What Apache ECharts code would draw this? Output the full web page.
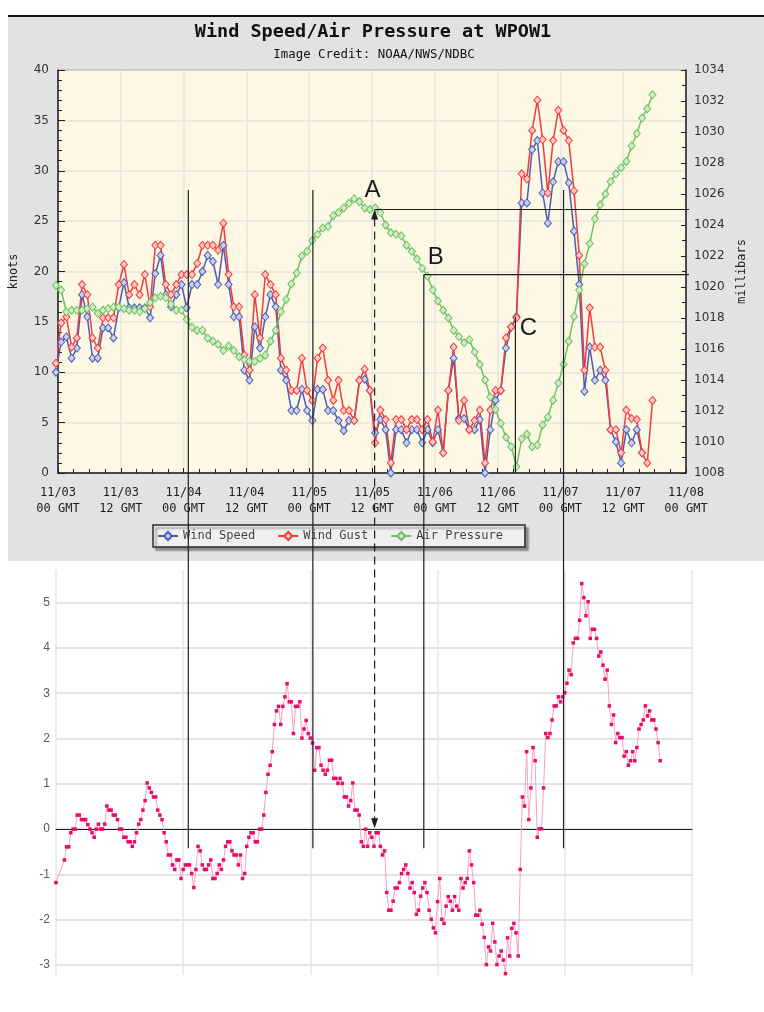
<!DOCTYPE html>
<html>
<head>
<meta charset="utf-8">
<title>Wind Speed/Air Pressure at WPOW1</title>
<script src="https://cdn.jsdelivr.net/npm/echarts@6/dist/echarts.min.js"></script>
<style>
  html, body { margin: 0; padding: 0; background: #fff; }
  #main { width: 764px; height: 1012px; }
</style>
</head>
<body>
<div id="main"></div>
<script>
// x tick labels of the NOAA chart, one every 12 hours from 11/03 00 GMT
var timeLabels = [
  '11/03\n00 GMT', '11/03\n12 GMT', '11/04\n00 GMT', '11/04\n12 GMT',
  '11/05\n00 GMT', '11/05\n12 GMT', '11/06\n00 GMT', '11/06\n12 GMT',
  '11/07\n00 GMT', '11/07\n12 GMT', '11/08\n00 GMT'
];

// hourly observations (knots)
var windSpeed = [
  10, 13, 13.5, 11.4, 12.4, 17.7, 15.5, 11.4, 11.4, 14.4,
  14.4, 13.4, 16.4, 18.9, 16.4, 16.4, 16.4, 16.4, 15.4, 19.8,
  21.6, 17.7, 16.5, 17.7, 18.7, 16.4, 18.7, 18.7, 20, 21.6,
  21, 18.7, 22.6, 18.7, 15.5, 15.5, 10.2, 9.2, 14.5, 12.4,
  15.5, 17.7, 16.5, 10.2, 9.2, 6.2, 6.2, 8.3, 6.2, 5.2,
  8.3, 8.3, 6.2, 6.2, 5.2, 4.2, 5.2, 5.2, 9.2, 9.3,
  8.2, 4.0, 5.3, 4.3, 0, 4.3, 4.3, 3.0, 4.3, 4.3,
  3.0, 4.3, 3.0, 4.3, 2.0, 8.2, 11.4, 5.4, 5.4, 4.3,
  4.3, 5.3, 0, 4.3, 7.2, 8.2, 12.4, 14.5, 15.5, 26.8,
  26.8, 32.1, 33, 27.8, 24.8, 28.9, 30.9, 30.9, 28.8, 24,
  18.7, 8.1, 12.5, 9.2, 10.2, 9.2, 4.3, 3.1, 1.0, 4.3,
  3.0, 4.3, 2.0
];
var windGust = [
  10.9, 14.9, 15.5, 12.5, 13.4, 18.7, 17.7, 13.4, 12.4, 15.4,
  15.4, 15.4, 18.7, 20.7, 17.7, 18.7, 17.7, 19.7, 16.5, 22.6,
  22.6, 18.7, 17.7, 18.7, 19.7, 19.7, 19.7, 20.8, 22.6, 22.6,
  22.6, 22.1, 24.8, 19.7, 16.5, 16.5, 11.7, 10.2, 17.7, 13.4,
  19.7, 18.7, 17.7, 11.4, 10.2, 8.2, 8.2, 11.4, 8.2, 7.2,
  11.4, 12.4, 9.2, 7.2, 9.2, 6.2, 6.2, 5.2, 9.2, 10.3,
  8.2, 3.0, 6.25, 5.3, 1.0, 5.3, 5.3, 4.3, 5.3, 5.3,
  4.3, 5.3, 3.1, 6.25, 2.0, 8.2, 12.5, 5.2, 7.2, 4.3,
  5.2, 6.25, 1.0, 6.25, 8.2, 8.2, 13.4, 14.5, 15.4, 29.7,
  29.2, 34.0, 37.0, 33.1, 27.8, 33.0, 36.0, 34.0, 33.0, 28.0,
  21.6, 10.2, 16.4, 12.5, 12.5, 10.2, 4.3, 4.3, 2.0, 6.25,
  5.4, 5.3, 2.0, 1.0, 7.2
];
// hourly observations (millibars)
var airPressure = [
  1020.1, 1019.8, 1018.4, 1018.5, 1018.5, 1018.5, 1018.6, 1018.7, 1018.3, 1018.5,
  1018.6, 1018.7, 1018.7, 1018.6, 1018.5, 1018.5, 1018.4, 1018.6, 1019.0, 1019.3,
  1019.4, 1019.3, 1018.9, 1018.5, 1018.5, 1017.9, 1017.4, 1017.2, 1017.2, 1016.7,
  1016.5, 1016.3, 1015.9, 1016.2, 1015.9, 1015.5, 1015.3, 1015.2, 1015.2, 1015.4,
  1015.6, 1016.5, 1017.2, 1018.4, 1019.2, 1020.2, 1020.9, 1022.0, 1022.3, 1023.0,
  1023.4, 1023.8, 1023.9, 1024.6, 1024.8, 1025.1, 1025.4, 1025.7, 1025.5, 1025.1,
  1025.0, 1025.1, 1024.8, 1024.0, 1023.5, 1023.4, 1023.3, 1022.7, 1022.3, 1021.8,
  1021.2, 1020.7, 1019.8, 1019.1, 1018.5, 1018.0, 1017.2, 1016.8, 1016.4, 1016.6,
  1015.8, 1015.0, 1014.0, 1012.9, 1012.1, 1011.2, 1010.3, 1009.7, 1008.4, 1010.2,
  1010.5, 1009.7, 1009.8, 1011.1, 1011.6, 1012.7, 1013.8, 1015.0, 1016.5, 1018.1,
  1019.8, 1021.5, 1022.8, 1024.4, 1025.3, 1026.0, 1026.8, 1027.3, 1027.7, 1028.1,
  1029.1, 1029.9, 1030.9, 1031.5, 1032.4
];
// lower chart, one value every 0.4 h
var tendency = [
  -1.18, null, null, null, -0.68, -0.39, -0.39, -0.08, 0, 0,
  0.31, 0.31, 0.21, 0.21, 0.21, 0.1, 0, -0.08, -0.18, 0,
  0.11, 0, 0, 0.11, 0.51, 0.42, 0.42, 0.31, 0.31, 0.21,
  0, 0, -0.18, -0.18, -0.28, -0.28, -0.38, -0.28, -0.08, 0.11,
  0.21, 0.42, 0.63, 1.02, 0.91, 0.81, 0.71, 0.71, 0.42, 0.31,
  0.21, -0.08, -0.28, -0.57, -0.57, -0.79, -0.89, -0.68, -0.68, -1.09,
  -0.89, -0.79, -0.79, -0.79, -0.98, -1.29, -0.89, -0.38, -0.48, -0.79,
  -0.89, -0.89, -0.79, -0.68, -1.09, -1.09, -0.98, -0.79, -0.89, -0.68,
  -0.38, -0.28, -0.28, -0.48, -0.57, -0.57, -0.79, -0.57, -1.09, -0.98,
  -0.38, -0.18, -0.08, -0.08, -0.28, -0.28, 0, 0, 0.31, 0.81,
  1.21, 1.41, 1.71, 2.31, 2.61, 2.71, 2.31, 2.71, 2.92, 3.21,
  2.81, 2.81, 2.11, 2.71, 2.71, 2.81, 2.01, 2.21, 2.40, 2.11,
  2.01, 1.90, 1.30, 1.80, 1.80, 1.41, 1.30, 1.21, 1.30, 1.52,
  1.52, 1.12, 1.12, 1.01, 1.12, 1.01, 0.71, 0.71, 0.51, 0.63,
  1.02, 0.42, 0.42, 0.31, -0.28, -0.38, 0, -0.38, -0.08, -0.18,
  -0.38, -0.08, -0.08, -0.38, -0.57, -0.48, -1.40, -1.79, -1.79, -1.59,
  -1.30, -1.30, -1.18, -0.98, -0.89, -0.79, -0.98, -1.30, -1.18, -1.40,
  -1.88, -1.79, -1.48, -1.30, -1.18, -1.40, -1.79, -1.99, -2.18, -2.29,
  -1.60, -1.09, -1.99, -2.08, -1.70, -1.49, -1.59, -1.79, -1.49, -1.70,
  -1.79, -1.09, -1.30, -1.18, -1.09, -0.48, -0.79, -1.18, -1.90, -1.90,
  -1.79, -2.10, -2.39, -2.99, -2.60, -2.69, -2.08, -2.49, -2.99, -2.80,
  -2.69, -2.89, -3.19, -2.40, -2.80, -2.19, -2.08, -2.29, -2.80, -0.89,
  0.71, 0.51, 1.71, 0.21, 0.91, 1.80, 1.51, -0.18, 0.01, 0.01,
  0.91, 2.11, 2.02, 2.11, 2.41, 2.72, 2.72, 2.92, 2.81, 2.92,
  3.01, 3.22, 3.51, 3.41, 4.11, 4.21, 4.21, 4.61, 5.42, 5.11,
  4.71, 5.02, 4.21, 4.41, 4.41, 4.21, 3.82, 3.91, 3.62, 3.31,
  3.51, 2.72, 2.31, 2.52, 1.91, 2.11, 2.02, 2.02, 1.61, 1.71,
  1.41, 1.51, 1.71, 1.51, 1.80, 2.21, 2.31, 2.41, 2.72, 2.50,
  2.61, 2.41, 2.41, 2.21, 1.91, 1.51
];
var lowerTicks = [-3, -2, -1, 0, 1, 2, 3, 4, 5];

// annotation anchors (hours from 11/03 00 GMT)
var guideHours = [24.9, 48.7, 96.6];
var guideTopKnots = 28.1;
var guideBottom = -0.42;
var pointA = [60.5, 1025];     // hour, mb
var pointB = [69.9, 1020.8];   // hour, mb
var pointC = [87.4, 15.5];     // hour, knots

var obsOffset = -0.4;  // obs are logged a bit before the hour
var tendStep = 0.4;

function hourly(values) {
  return values.map(function (v, i) { return [i + obsOffset, v]; });
}
function stepped(values) {
  return values.map(function (v, k) { return [k * tendStep, v]; });
}

var mono = 'DejaVu Sans Mono';
var ink = '#1e1e1e';
var myChart = echarts.init(document.getElementById('main'));

var option = {
  animation: false,
  backgroundColor: '#ffffff',
  legend: {
    data: ['Wind Speed', 'Wind Gust', 'Air Pressure'],
    left: 153, top: 525,
    itemWidth: 20, itemHeight: 10, itemGap: 22,
    padding: [5, 22, 5, 4],
    backgroundColor: '#efefef',
    borderColor: '#2a2a2a', borderWidth: 1.5,
    shadowColor: 'rgba(0,0,0,0.35)', shadowBlur: 2, shadowOffsetX: 3, shadowOffsetY: 3,
    textStyle: { fontFamily: mono, fontSize: 12, color: '#444' }
  },
  grid: [
    { left: 57, top: 70, width: 629, height: 403, show: true,
      backgroundColor: '#fdf8e4', borderColor: ink, borderWidth: 1 },
    { left: 56, top: 570, width: 636, height: 405 }
  ],
  xAxis: [
    {
      type: 'value', gridIndex: 0, min: 0, max: 120, interval: 12,
      axisLine: { lineStyle: { color: ink, width: 1.5 } },
      axisTick: { inside: true, length: 5, lineStyle: { color: ink } },
      minorTick: { show: true, splitNumber: 4, length: 4, lineStyle: { color: ink } },
      axisLabel: {
        formatter: function (v) { return timeLabels[Math.round(v / 12)]; },
        fontFamily: mono, fontSize: 12, color: ink, margin: 12, lineHeight: 16,
        showMinLabel: true, showMaxLabel: true
      },
      splitLine: { show: true, lineStyle: { color: '#e4e4e0', width: 1.5 } }
    },
    {
      type: 'value', gridIndex: 1, min: 0, max: 120, interval: 24,
      axisLine: { onZero: true, lineStyle: { color: ink, width: 1.2 } },
      axisTick: { show: false },
      axisLabel: { show: false },
      splitLine: { show: true, lineStyle: { color: '#e6e6e6', width: 1.5 } }
    }
  ],
  yAxis: [
    {
      type: 'value', gridIndex: 0, position: 'left', min: 0, max: 40, interval: 5,
      name: 'knots', nameLocation: 'middle', nameGap: 38, nameRotate: 90,
      nameTextStyle: { fontFamily: mono, fontSize: 12, color: ink },
      axisLine: { show: true, lineStyle: { color: ink, width: 1.5 } },
      axisTick: { inside: true, length: 7, lineStyle: { color: ink } },
      minorTick: { show: true, splitNumber: 5, length: 4, lineStyle: { color: ink } },
      axisLabel: { fontFamily: 'DejaVu Sans', fontSize: 12, color: '#333', margin: 9 },
      splitLine: { show: true, lineStyle: { color: '#e4e4e0', width: 1.5 } }
    },
    {
      type: 'value', gridIndex: 0, position: 'right', min: 1008, max: 1034, interval: 2,
      name: 'millibars', nameLocation: 'middle', nameGap: 49, nameRotate: 90,
      nameTextStyle: { fontFamily: mono, fontSize: 12, color: ink },
      axisLine: { show: true, lineStyle: { color: ink, width: 1.5 } },
      axisTick: { inside: true, length: 5, lineStyle: { color: ink } },
      minorTick: { show: true, splitNumber: 2, length: 4, lineStyle: { color: ink } },
      axisLabel: { formatter: function (v) { return String(v); },
        fontFamily: 'DejaVu Sans', fontSize: 12, color: '#333', margin: 8 },
      splitLine: { show: false }
    },
    {
      type: 'value', gridIndex: 1, min: -3.22, max: 5.72,
      axisLine: { show: false },
      axisTick: { show: false, customValues: lowerTicks },
      axisLabel: { customValues: lowerTicks, fontFamily: 'Liberation Sans Narrow, Liberation Sans',
        fontSize: 12, color: '#4f5f4f', margin: 6 },
      splitLine: { show: true, lineStyle: { color: '#d9d9d9', width: 1.5 } }
    }
  ],
  series: [
    {
      name: 'Wind Speed', type: 'line', xAxisIndex: 0, yAxisIndex: 0,
      data: hourly(windSpeed), clip: false,
      symbol: 'diamond', symbolSize: [7, 8],
      lineStyle: { color: '#4b5cb4', width: 1.5 },
      itemStyle: { color: '#c9d0f0', borderColor: '#4b5cb4', borderWidth: 1 }
    },
    {
      name: 'Wind Gust', type: 'line', xAxisIndex: 0, yAxisIndex: 0,
      data: hourly(windGust), clip: false,
      symbol: 'diamond', symbolSize: [7, 8],
      lineStyle: { color: '#f23a3a', width: 1.5 },
      itemStyle: { color: '#ffc9c4', borderColor: '#f23a3a', borderWidth: 1 }
    },
    {
      name: 'Air Pressure', type: 'line', xAxisIndex: 0, yAxisIndex: 1,
      data: hourly(airPressure), clip: false,
      symbol: 'diamond', symbolSize: [7, 8],
      lineStyle: { color: '#6fc063', width: 1.5 },
      itemStyle: { color: '#cfeec6', borderColor: '#6fc063', borderWidth: 1 }
    },
    {
      name: 'Tendency', type: 'line', xAxisIndex: 1, yAxisIndex: 2,
      data: stepped(tendency), connectNulls: true, clip: false,
      symbol: 'rect', symbolSize: 3.5, showAllSymbol: true,
      lineStyle: { color: '#f6a1c3', width: 1 },
      itemStyle: { color: '#ea0a68' }
    }
  ]
};
myChart.setOption(option);

// overlay: panel, titles and the A/B/C guide lines, placed through the axes
function topPx(t, v, axis) {
  return myChart.convertToPixel({ xAxisIndex: 0, yAxisIndex: axis }, [t, v]);
}
function lowY(v) {
  return myChart.convertToPixel({ xAxisIndex: 1, yAxisIndex: 2 }, [0, v])[1];
}
function seg(x1, y1, x2, y2, dash) {
  return { type: 'line', z: 100, silent: true,
    shape: { x1: x1, y1: y1, x2: x2, y2: y2 },
    style: { stroke: ink, lineWidth: 1.2, lineDash: dash || null } };
}
function letter(txt, x, y) {
  return { type: 'text', z: 100, silent: true, x: x, y: y,
    style: { text: txt, font: '24px "Liberation Sans"', fill: '#1a1a1a',
      textAlign: 'center', textVerticalAlign: 'middle' } };
}

var rightX = topPx(120, 0, 0)[0] + 3;
var guideY1 = topPx(0, guideTopKnots, 0)[1];
var guideY2 = lowY(guideBottom);
var pA = topPx(pointA[0], pointA[1], 1);
var pB = topPx(pointB[0], pointB[1], 1);
var pC = topPx(pointC[0], pointC[1], 0);
var zeroY = lowY(0);

var overlay = [
  { type: 'rect', z: -1, silent: true, shape: { x: 8, y: 17, width: 756, height: 544 },
    style: { fill: '#e1e2e1' } },
  { type: 'rect', z: 1, silent: true, shape: { x: 8, y: 15, width: 756, height: 2 },
    style: { fill: '#111' } },
  { type: 'text', z: 1, x: 373, y: 32,
    style: { text: 'Wind Speed/Air Pressure at WPOW1', font: 'bold 18.5px "DejaVu Sans Mono"',
      fill: '#111', textAlign: 'center', textVerticalAlign: 'middle' } },
  { type: 'text', z: 1, x: 374, y: 55,
    style: { text: 'Image Credit: NOAA/NWS/NDBC', font: '12.4px "DejaVu Sans Mono"',
      fill: '#111', textAlign: 'center', textVerticalAlign: 'middle' } }
];

guideHours.forEach(function (h) {
  var x = topPx(h, 0, 0)[0];
  overlay.push(seg(x, guideY1, x, guideY2));
});
// B
overlay.push(seg(pB[0], pB[1], rightX, pB[1]));
overlay.push(seg(pB[0], pB[1], pB[0], guideY2));
// A
overlay.push(seg(pA[0], pA[1], rightX, pA[1]));
overlay.push(seg(pA[0], pA[1] + 9, pA[0], zeroY - 9, [8, 5]));
overlay.push({ type: 'polygon', z: 100, silent: true,
  shape: { points: [[pA[0], pA[1]], [pA[0] - 3.5, pA[1] + 10], [pA[0] + 3.5, pA[1] + 10]] },
  style: { fill: ink } });
overlay.push({ type: 'polygon', z: 100, silent: true,
  shape: { points: [[pA[0], zeroY - 1], [pA[0] - 3.5, zeroY - 11], [pA[0] + 3.5, zeroY - 11]] },
  style: { fill: ink } });
// C
overlay.push(seg(pC[0], pC[1], pC[0], topPx(pointC[0], 0, 0)[1]));

overlay.push(letter('A', pA[0] - 2, pA[1] - 19));
overlay.push(letter('B', pB[0] + 12, pB[1] - 17));
overlay.push(letter('C', pC[0] + 13, pC[1] + 12));

myChart.setOption({ graphic: overlay });
</script>
</body>
</html>
